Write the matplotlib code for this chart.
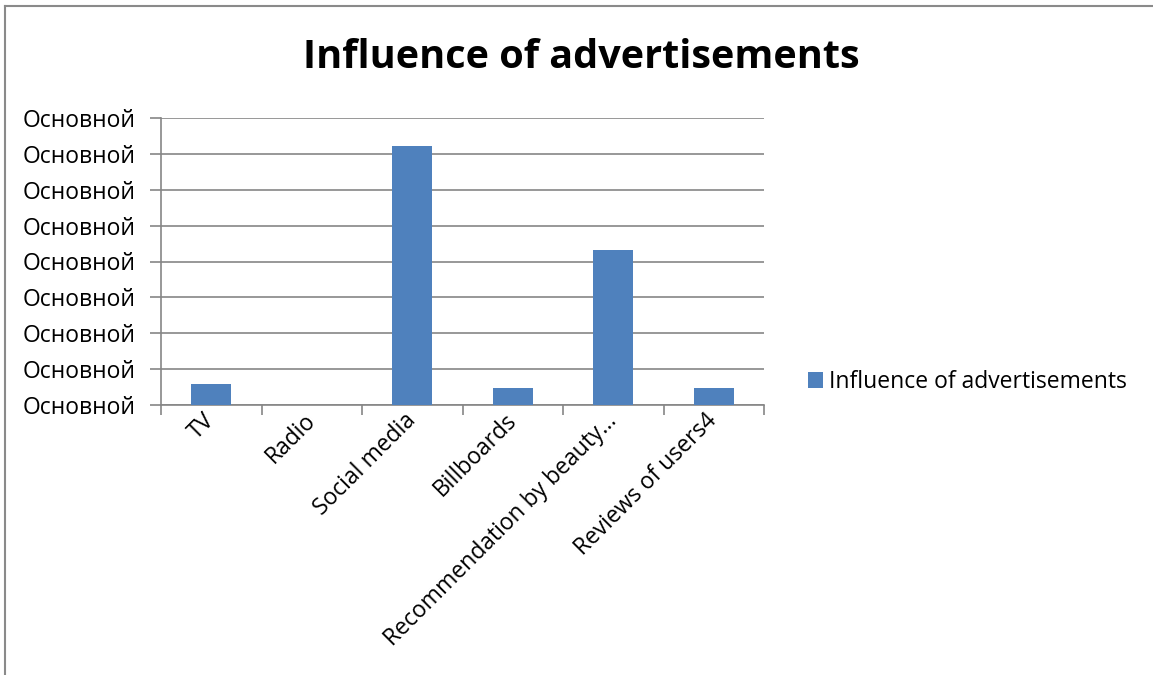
import matplotlib
matplotlib.use("Agg")
import matplotlib.pyplot as plt
from matplotlib.lines import Line2D
import numpy as np

categories = ["TV", "Radio", "Social media", "Billboards",
              "Recommendation by beauty…", "Reviews of users4"]
values = [0.58, 0.0, 7.21, 0.47, 4.32, 0.47]
y_ticks = list(range(0, 9))
y_labels = ["Основной"] * len(y_ticks)
series_name = "Influence of advertisements"

plt.rcParams["font.family"] = ["Open Sans", "DejaVu Sans"]
GRID = "#868686"
BAR = "#4F81BD"
FS = 16.5

fig = plt.figure(figsize=(11.53, 6.75), dpi=100)
ax = fig.add_axes([161 / 1153, 1 - 405 / 675, 603 / 1153, 287 / 675])

x = np.arange(len(categories))
ax.bar(x, values, width=0.4, color=BAR, label=series_name, zorder=3)

ax.set_xlim(-0.5, len(categories) - 0.5)
ax.set_ylim(0, 8)
ax.set_yticks(y_ticks)
ax.set_yticklabels(y_labels, fontsize=FS)
ax.yaxis.grid(True, color=GRID, linewidth=1.2, zorder=0)
ax.tick_params(axis="y", length=8, width=1.2, color=GRID, pad=10)

# category boundaries as major ticks, labels at centers as minor ticks
ax.set_xticks(np.arange(-0.5, len(categories), 1.0))
ax.set_xticklabels([])
ax.tick_params(axis="x", which="major", length=7, width=1.2, color=GRID)
ax.set_xticks(x, minor=True)
ax.set_xticklabels(categories, minor=True, rotation=45, ha="right",
                   va="center", rotation_mode="anchor", fontsize=FS)
ax.tick_params(axis="x", which="minor", length=0, pad=9)

for s in ["top", "right"]:
    ax.spines[s].set_visible(False)
ax.spines["left"].set_color(GRID)
ax.spines["left"].set_linewidth(1.2)
ax.spines["bottom"].set_color(GRID)
ax.spines["bottom"].set_linewidth(1.2)

fig.text(581 / 1153, 1 - 58 / 675, "Influence of advertisements",
         ha="center", va="center", fontsize=28.5, fontweight="bold")

fig.legend(loc="center left", bbox_to_anchor=(799 / 1153, 1 - 382 / 675),
           frameon=False, fontsize=FS, handlelength=0.65, handleheight=0.65,
           handletextpad=0.25, borderaxespad=0)

# chart outer border (top and left)
fig.add_artist(Line2D([5 / 1153, 5 / 1153], [0, 1 - 6 / 675],
                      transform=fig.transFigure, color="#8a8a8a", linewidth=1.5))
fig.add_artist(Line2D([5 / 1153, 1152 / 1153], [1 - 6 / 675, 1 - 6 / 675],
                      transform=fig.transFigure, color="#8a8a8a", linewidth=1.5))

fig.savefig("out.png", dpi=100)
